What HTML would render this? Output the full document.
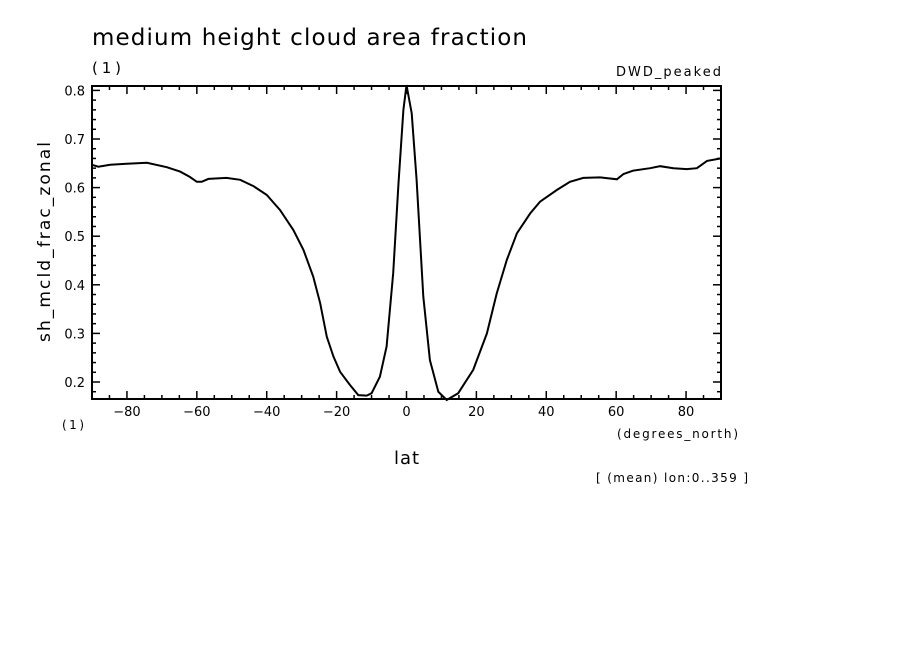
<!DOCTYPE html>
<html><head><meta charset="utf-8"><style>
body{margin:0;background:#fff;}
svg{display:block;font-family:"DejaVu Sans","Liberation Sans",sans-serif;}
</style></head><body>
<svg id="chart" width="904" height="654" viewBox="0 0 904 654">
<rect width="904" height="654" fill="#fff"/>
<text x="92" y="45" font-size="23" textLength="435" lengthAdjust="spacing">medium height cloud area fraction</text>
<text x="92" y="73" font-size="15" textLength="29" lengthAdjust="spacing">(1)</text>
<text x="616" y="76" font-size="13" textLength="105" lengthAdjust="spacing">DWD_peaked</text>
<text transform="translate(50,242) rotate(-90)" font-size="17" text-anchor="middle" textLength="200" lengthAdjust="spacing">sh_mcld_frac_zonal</text>
<text x="62" y="429" font-size="12" textLength="22" lengthAdjust="spacing">(1)</text>
<text x="617" y="438" font-size="12" textLength="121" lengthAdjust="spacing">(degrees_north)</text>
<text x="394" y="464" font-size="18" textLength="25" lengthAdjust="spacing">lat</text>
<text x="596" y="482" font-size="12" textLength="152" lengthAdjust="spacing">[ (mean) lon:0..359 ]</text>
<g id="axes"></g>
<path id="line" fill="none" stroke="#000" stroke-width="2"/>
<rect x="92" y="86" width="629" height="313" fill="none" stroke="#000" stroke-width="2"/>
</svg>
<script>
const lats=[-90,-88.2,-84.8,-80.1,-74.3,-68.6,-64.8,-62,-60,-58.6,-56.7,-51.5,-47.6,-43.8,-40,-36.2,-32.4,-29.5,-26.7,-24.7,-22.8,-20.9,-19,-16.2,-13.8,-11.4,-10,-7.6,-5.7,-3.8,-2.3,-0.9,0,1.5,2.9,4.8,6.7,9.1,11.5,14.8,19.1,23,25.8,28.7,31.6,35.4,38.2,43,46.8,50.6,55.4,60.2,62.1,64.9,69.7,72.6,76.4,80.2,83.1,86,90];
const values=[0.647,0.643,0.647,0.649,0.651,0.642,0.633,0.622,0.612,0.612,0.618,0.620,0.616,0.603,0.585,0.554,0.513,0.472,0.417,0.362,0.293,0.252,0.221,0.194,0.173,0.172,0.177,0.211,0.273,0.424,0.609,0.760,0.811,0.753,0.616,0.376,0.245,0.180,0.163,0.177,0.225,0.300,0.382,0.451,0.506,0.547,0.571,0.595,0.612,0.620,0.621,0.617,0.628,0.635,0.640,0.644,0.640,0.638,0.640,0.655,0.660];
const xTicks=[-80,-60,-40,-20,0,20,40,60,80];
const xTickLabels=["\u221280","\u221260","\u221240","\u221220","0","20","40","60","80"];
const yTicks=[0.2,0.3,0.4,0.5,0.6,0.7,0.8];
const yTickLabels=["0.2","0.3","0.4","0.5","0.6","0.7","0.8"];
const L=92,R=721,T=86,B=399;
const xs=v=>L+(v+90)/180*(R-L);
const ys=v=>382-(v-0.2)*486;
const NS="http://www.w3.org/2000/svg";
const ax=document.getElementById('axes');
function ln(x1,y1,x2,y2){const e=document.createElementNS(NS,'line');e.setAttribute('x1',x1);e.setAttribute('y1',y1);e.setAttribute('x2',x2);e.setAttribute('y2',y2);e.setAttribute('stroke','#000');e.setAttribute('stroke-width','1.5');


ax.appendChild(e);}
for(let v=-85;v<90;v+=5){const x=xs(v);const len=(v%20===0)?8:4;ln(x,B,x,B-len);ln(x,T,x,T+len);}
for(let i=0;i<36;i++){const v=0.16+i*0.02;const y=ys(v);if(y<T||y>B)continue;const maj=Math.abs(v*10-Math.round(v*10))<1e-6;const len=maj?8:4;ln(L,y,L+len,y);ln(R,y,R-len,y);}
xTicks.forEach((v,i)=>{const t=document.createElementNS(NS,'text');t.setAttribute('x',xs(v));t.setAttribute('y',416);t.setAttribute('font-size','13');t.setAttribute('text-anchor','middle');t.textContent=xTickLabels[i];


ax.appendChild(t);});
yTicks.forEach((v,i)=>{const t=document.createElementNS(NS,'text');t.setAttribute('x',85);t.setAttribute('y',ys(v)+5);t.setAttribute('font-size','13');t.setAttribute('text-anchor','end');t.textContent=yTickLabels[i];


ax.appendChild(t);});
document.getElementById('line').setAttribute('d',lats.map((la,i)=>(i?'L':'M')+xs(la).toFixed(1)+','+ys(values[i]).toFixed(1)).join(''));
</script>
</body></html>
